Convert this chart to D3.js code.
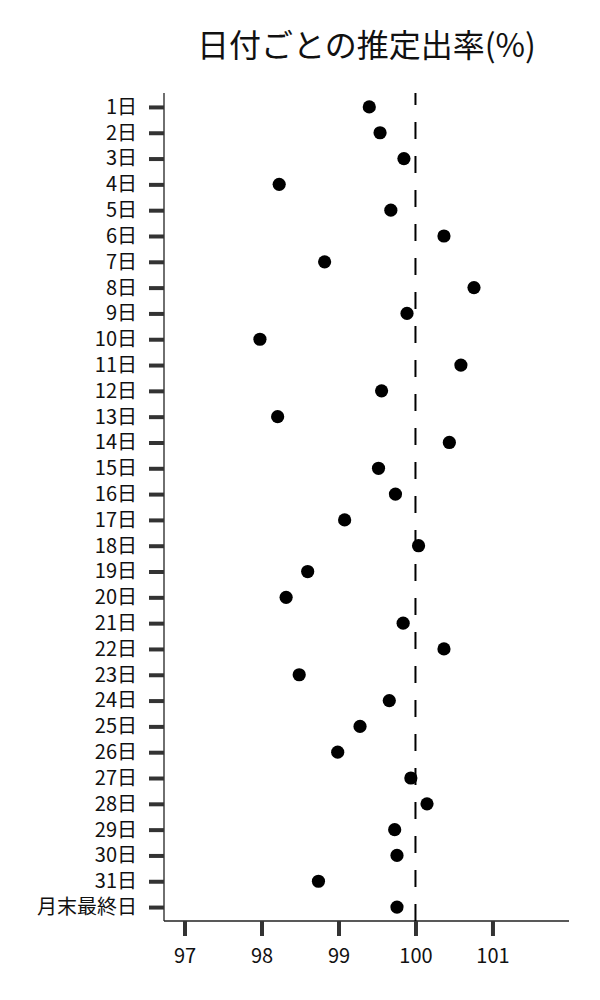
<!DOCTYPE html>
<html>
<head>
<meta charset="utf-8">
<script src="https://cdn.jsdelivr.net/npm/d3@7"></script>
<style>
  body { margin: 0; background: #fff; }
  text { font-family: "Noto Sans CJK JP", "Noto Sans", sans-serif; }
</style>
</head>
<body>
<svg id="chart"></svg>
<script>
// categories (y axis)
const days = ["1日","2日","3日","4日","5日","6日","7日","8日","9日","10日",
  "11日","12日","13日","14日","15日","16日","17日","18日","19日","20日",
  "21日","22日","23日","24日","25日","26日","27日","28日","29日","30日",
  "31日","月末最終日"];

// estimated rate per day (%)
const rates = [99.40, 99.54, 99.85, 98.23, 99.68, 100.37, 98.82, 100.76, 99.89, 97.98,
  100.59, 99.56, 98.21, 100.44, 99.52, 99.74, 99.08, 100.04, 98.60, 98.32,
  99.84, 100.37, 98.49, 99.66, 99.28, 98.99, 99.94, 100.15, 99.73, 99.76,
  98.74, 99.76];

const xTicks = [97, 98, 99, 100, 101];
const refLine = 100;
const title = "日付ごとの推定出率(%)";

const width = 600, height = 1000;
const margin = { top: 93, right: 31, bottom: 79, left: 164 };

const svg = d3.select("#chart")
    .attr("width", width)
    .attr("height", height);

const innerW = width - margin.left - margin.right;
const innerH = height - margin.top - margin.bottom;

const chart = svg.append("g")
    .attr("transform", `translate(${margin.left},${margin.top})`);

const x = d3.scaleLinear()
    .domain([96.734, 101.994])
    .range([0, innerW]);

const y = d3.scalePoint()
    .domain(days)
    .range([0, innerH])
    .padding(0.54);

// x axis
const xAxis = chart.append("g")
    .attr("transform", `translate(0,${innerH})`)
    .call(d3.axisBottom(x).tickValues(xTicks).tickFormat(d3.format("d")).tickSize(15).tickPadding(13));
xAxis.select(".domain").attr("stroke", "#222").attr("stroke-width", 1.3)
    .attr("d", `M0,0H${innerW}`);
xAxis.selectAll(".tick line").attr("stroke", "#333").attr("stroke-width", 4);
xAxis.selectAll(".tick text").attr("font-size", 20).attr("fill", "#111");

// y axis
const yAxis = chart.append("g")
    .call(d3.axisLeft(y).tickSize(15).tickPadding(12));
yAxis.select(".domain").attr("stroke", "#222").attr("stroke-width", 1.3)
    .attr("d", `M0,0V${innerH}`);
yAxis.selectAll(".tick line").attr("stroke", "#333").attr("stroke-width", 4);
yAxis.selectAll(".tick text").attr("font-size", 20).attr("fill", "#111");

// reference line at 100 (drawn bottom-up so a dash sits on the axis)
chart.append("line")
    .attr("x1", x(refLine)).attr("x2", x(refLine))
    .attr("y1", innerH).attr("y2", 0)
    .attr("stroke", "#000")
    .attr("stroke-width", 2)
    .attr("stroke-dasharray", "17,17");

// dots
chart.selectAll("circle.dot")
  .data(days.map((d, i) => ({ day: d, v: rates[i] })))
  .join("circle")
    .attr("class", "dot")
    .attr("cx", d => x(d.v))
    .attr("cy", d => y(d.day))
    .attr("r", 6.6)
    .attr("fill", "#000");

// title
svg.append("text")
    .attr("x", margin.left + innerW / 2)
    .attr("y", 57)
    .attr("text-anchor", "middle")
    .attr("font-size", 32)
    .attr("fill", "#111")
    .text(title);
</script>
</body>
</html>
